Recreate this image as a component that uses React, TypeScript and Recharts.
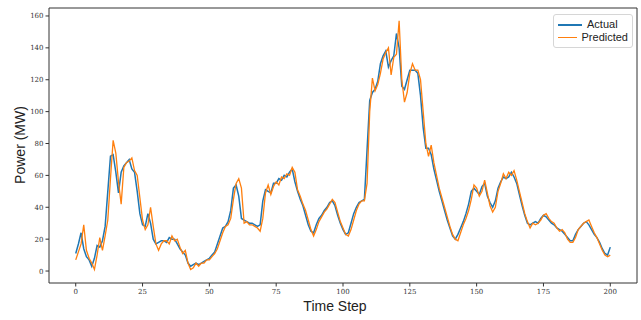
import React from 'react';
import { LineChart, Line, XAxis, YAxis, ReferenceArea } from 'recharts';

const actual: number[] = [
  11, 17, 24, 14, 9, 7, 3, 8, 16, 15,
  19, 28, 50, 72, 73, 62, 49, 62, 66, 68,
  70, 64, 62, 50, 36, 29, 28, 36, 30, 20,
  17, 18, 19, 19, 18, 21, 20, 20, 17, 14,
  12, 10, 5, 3, 4, 5, 4, 5, 6, 7,
  8, 10, 12, 17, 22, 27, 28, 31, 38, 52,
  54, 47, 33, 32, 31, 30, 30, 29, 28, 29,
  44, 51, 50, 49, 55, 55, 58, 57, 60, 59,
  62, 64, 56, 50, 45, 41, 35, 29, 25, 24,
  29, 33, 35, 38, 40, 43, 44, 41, 35, 30,
  26, 23, 24, 30, 36, 40, 43, 44, 45, 76,
  107, 112, 114, 119, 130, 135, 138, 128, 132, 135,
  149, 140, 116, 114, 120, 126, 126, 126, 124, 110,
  90, 77, 77, 73, 64, 57, 50, 44, 38, 32,
  27, 22, 20, 23, 27, 31, 36, 42, 50, 52,
  50, 48, 53, 55, 47, 43, 40, 44, 52, 56,
  59, 58, 59, 62, 59, 55, 48, 41, 35, 30,
  29, 30, 31, 30, 33, 35, 34, 32, 30, 29,
  27, 26, 25, 23, 21, 19, 19, 23, 26, 28,
  30, 31, 29, 26, 23, 21, 18, 14, 11, 10,
  15,
];

const predicted: number[] = [
  7, 12, 17, 29, 13, 8, 5, 1, 10, 21,
  13, 22, 32, 58, 82, 74, 56, 42, 65, 68,
  69, 71, 63, 60, 46, 32, 26, 29, 40, 28,
  17, 13, 17, 19, 19, 17, 22, 19, 20, 15,
  11, 13, 5, 1, 2, 5, 3, 5, 5, 7,
  7, 9, 11, 14, 19, 24, 28, 29, 33, 45,
  55, 58, 52, 30, 31, 29, 29, 28, 27, 25,
  33, 49, 54, 48, 53, 56, 54, 59, 58, 61,
  60, 65, 62, 51, 47, 42, 38, 32, 26, 22,
  26, 31, 34, 37, 39, 42, 45, 43, 37, 31,
  27, 23, 22, 26, 32, 38, 42, 44, 44, 55,
  100, 121, 113, 117, 124, 133, 137, 140, 123, 134,
  136, 157, 120, 106, 112, 124, 130, 126, 126, 120,
  100, 80, 72, 79, 68, 60, 52, 46, 40, 34,
  28, 23, 20, 19, 24, 29, 33, 38, 45, 54,
  52, 47, 50, 57, 49, 41, 37, 40, 50, 55,
  61, 58, 62, 60, 63, 57, 50, 43, 36, 31,
  27, 30, 29, 30, 32, 35, 36, 33, 31, 30,
  27, 25, 26, 24, 20, 18, 18, 21, 26, 28,
  30, 31, 32, 28, 24, 21, 17, 13, 10, 9,
  10,
];

const timeSteps: number[] = actual.map((_, i) => i);
const xTicks: number[] = [0, 25, 50, 75, 100, 125, 150, 175, 200];
const yTicks: number[] = [0, 20, 40, 60, 80, 100, 120, 140, 160];

const data = timeSteps.map((t, i) => ({ t, actual: actual[i], predicted: predicted[i] }));

const BLUE = '#1f77b4';
const ORANGE = '#ff7f0e';
const tickStyle = { fontSize: 7, fill: '#333', fontFamily: '"DejaVu Serif", serif' };
const sans = '"Liberation Sans", Arial, sans-serif';

export default function App() {
  return (
    <div style={{ position: 'absolute', left: 0, top: 0, width: 641, height: 320, background: '#fff' }}>
      <LineChart width={641} height={320} data={data} margin={{ top: 8, right: 4, bottom: 0, left: 0 }}>
        <XAxis
          dataKey="t"
          type="number"
          domain={[-10, 210]}
          ticks={xTicks}
          tick={tickStyle}
          tickSize={3.5}
          tickMargin={3}
          height={37}
          axisLine={false}
          tickLine={{ stroke: '#333' }}
          allowDataOverflow
        />
        <YAxis
          type="number"
          domain={[-7.5, 165]}
          ticks={yTicks}
          tick={tickStyle}
          tickSize={3.5}
          tickMargin={2}
          width={49}
          axisLine={false}
          tickLine={{ stroke: '#333' }}
          allowDataOverflow
        />
        <Line type="linear" dataKey="actual" stroke={BLUE} strokeWidth={1.5} dot={false} isAnimationActive={false} />
        <Line type="linear" dataKey="predicted" stroke={ORANGE} strokeWidth={1.3} dot={false} isAnimationActive={false} />
        <ReferenceArea x1={-10} x2={210} y1={-7.5} y2={165} fill="none" stroke="#333" strokeWidth={1} ifOverflow="visible" />
      </LineChart>
      <div
        style={{
          position: 'absolute',
          left: 553,
          top: 14,
          width: 70,
          border: '1px solid #d6d6d6',
          borderRadius: 3,
          background: 'rgba(255,255,255,0.8)',
          padding: '3px 4px',
          fontFamily: sans,
          fontSize: 11,
          color: '#222',
          lineHeight: '13px',
        }}
      >
        <div style={{ display: 'flex', alignItems: 'center' }}>
          <span style={{ display: 'inline-block', width: 24, height: 2, background: BLUE, marginRight: 5 }} />
          <span>Actual</span>
        </div>
        <div style={{ display: 'flex', alignItems: 'center' }}>
          <span style={{ display: 'inline-block', width: 24, height: 1.5, background: ORANGE, marginRight: 5 }} />
          <span>Predicted</span>
        </div>
      </div>
      <div
        style={{
          position: 'absolute',
          left: 335,
          top: 298,
          transform: 'translateX(-50%)',
          fontFamily: sans,
          fontSize: 14,
          color: '#222',
          whiteSpace: 'nowrap',
        }}
      >
        Time Step
      </div>
      <div
        style={{
          position: 'absolute',
          left: 20,
          top: 145,
          transform: 'translate(-50%, -50%) rotate(-90deg)',
          fontFamily: sans,
          fontSize: 14,
          color: '#222',
          whiteSpace: 'nowrap',
        }}
      >
        Power (MW)
      </div>
    </div>
  );
}
